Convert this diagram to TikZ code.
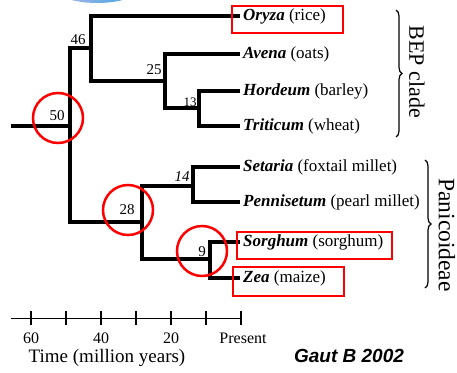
\documentclass[tikz,border=0pt]{standalone}
\usepackage{fontspec}
\setmainfont{Liberation Serif}
\newfontfamily\gautfont{Liberation Sans}
\usetikzlibrary{decorations.pathreplacing}

\definecolor{globeLilac}{RGB}{196,186,232}
\definecolor{globeBlue}{RGB}{40,160,225}

\begin{document}
\begin{tikzpicture}[x=1pt,y=-1pt,
  branch/.style={line width=4pt, line join=miter},
  leaf/.style={anchor=west, inner sep=3pt, text height=1.1em, text depth=.25em,
    font=\fontsize{17}{20}\selectfont},
  age/.style={inner sep=0pt, font=\fontsize{15}{18}\selectfont},
  ring/.style={circle, draw=red, line width=2.5pt, minimum size=50pt, inner sep=0pt},
  hilite/.style={draw=red, line width=2.5pt},
  clade/.style={decorate, decoration={brace, amplitude=6pt}, line width=1.2pt},
  cladename/.style={rotate=-90, inner sep=0pt, font=\fontsize{22}{24}\selectfont},
  axis/.style={line width=1pt},
  tick/.style={line width=1.6pt},
  ticklabel/.style={inner sep=0pt, font=\fontsize{16}{18}\selectfont},
]
\useasboundingbox (0,0) rectangle (457,372);

% partial logo at the top edge
\begin{scope}
  \clip (0,0) rectangle (457,372);
  \shade[left color=globeLilac, right color=globeBlue] (97,-18) ellipse (50 and 21);
\end{scope}

% internal nodes of the tree
\coordinate (root) at (11,126);
\coordinate (n50) at (70,126);
\coordinate (n46) at (91,48);
\coordinate (n25) at (165,81);
\coordinate (n13) at (199,108);
\coordinate (n28) at (142,222);
\coordinate (n14) at (193,186);
\coordinate (n9)  at (210,259);

% taxa
\node[leaf] (oryza)      at (240,16)  {\textbf{\textit{Oryza}} (rice)};
\node[leaf] (avena)      at (240,54)  {\textbf{\textit{Avena}} (oats)};
\node[leaf] (hordeum)    at (240,91)  {\textbf{\textit{Hordeum}} (barley)};
\node[leaf] (triticum)   at (240,126) {\textbf{\textit{Triticum}} (wheat)};
\node[leaf] (setaria)    at (240,167) {\textbf{\textit{Setaria}} (foxtail millet)};
\node[leaf] (pennisetum) at (240,202) {\textbf{\textit{Pennisetum}} (pearl millet)};
\node[leaf] (sorghum)    at (240,242) {\textbf{\textit{Sorghum}} (sorghum)};
\node[leaf] (zea)        at (240,278) {\textbf{\textit{Zea}} (maize)};

% branches
\draw[branch] (root) -- (n50);
\draw[branch] (n50) |- (n46);
\draw[branch] (n50) |- (n28);
\draw[branch] (n46) |- (oryza.west);
\draw[branch] (n46) |- (n25);
\draw[branch] (n25) |- (avena.west);
\draw[branch] (n25) |- (n13);
\draw[branch] (n13) |- (hordeum.west);
\draw[branch] (n13) |- (triticum.west);
\draw[branch] (n28) |- (n14);
\draw[branch] (n28) |- (n9);
\draw[branch] (n14) |- (setaria.west);
\draw[branch] (n14) |- (pennisetum.west);
\draw[branch] (n9) |- (sorghum.west);
\draw[branch] (n9) |- (zea.west);

% divergence times
\node[age] (a50) at (57,116) {50};
\node[age] (a46) at (78,40)  {46};
\node[age] (a25) at (154,70) {25};
\node[age, font=\fontsize{13}{15}\selectfont] (a13) at (190,102) {13};
\node[age] (a28) at (127,210) {28};
\node[age, font=\fontsize{15}{18}\selectfont\itshape] (a14) at (182,177) {14};
\node[age] (a9)  at (202,252) {9};

% highlighted divergences
\node[ring] (r50) at (58,118) {};
\node[ring] (r28) at (128,210) {};
\node[ring] (r9)  at (202,251) {};

% highlighted taxa
\draw[hilite] (232,6) rectangle (343,33);
\draw[hilite] (237,232) rectangle (392,259);
\draw[hilite] (233,267) rectangle (344,296);

% clades
\draw[clade] (396,10) -- (396,137);
\node[cladename] (bep) at (417,72) {BEP clade};
\draw[clade] (425,160) -- (425,288);
\node[cladename, font=\fontsize{23.5}{26}\selectfont] (pan) at (447,235) {Panicoideae};

% time axis
\draw[axis] (11,318) -- (241,318);
\foreach \t in {31,66,101,136,171,206,241}
  \draw[tick] (\t,311) -- (\t,325);
\node[ticklabel] (l60) at (31,338)  {60};
\node[ticklabel] (l40) at (101,338) {40};
\node[ticklabel] (l20) at (171,338) {20};
\node[ticklabel] (lp)  at (243,338) {Present};
\node[inner sep=0pt, font=\fontsize{19}{22}\selectfont] (tlabel) at (107,358) {Time (million years)};

\node[inner sep=0pt, font=\gautfont\fontsize{19}{22}\selectfont\bfseries\itshape] (cite) at (349,356) {Gaut B 2002};
\end{tikzpicture}
\end{document}
